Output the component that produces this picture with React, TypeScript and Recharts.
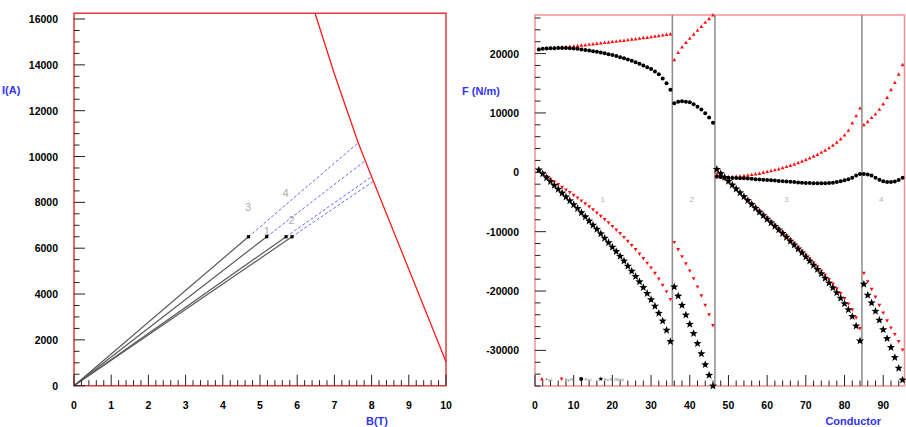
import React from "react";
import { ScatterChart, Scatter, XAxis, YAxis, ReferenceArea, ReferenceLine, Legend } from "recharts";

const FONT = "'Liberation Sans', Arial, Helvetica, sans-serif";
const TITLE_BLUE = "#3434ee";

// ---- left panel: load lines I(A) vs B(T)
const bTickLabels = [0, 1, 2, 3, 4, 5, 6, 7, 8, 9, 10];
const iTickLabels = [0, 2000, 4000, 6000, 8000, 10000, 12000, 14000, 16000];
const opCurrent = 6500;
const opField = [4.69, 5.18, 5.7, 5.86];
const quenchField = [7.64, 7.83, 8.0, 8.05];
const quenchCurrent = [10600, 9820, 9120, 8920];
const critField = [6.48, 7.0, 7.64, 8.0, 9.0, 10.0];
const critCurrent = [16250, 13600, 10600, 9120, 5080, 1050];
const coilTags = ["3", "1", "4", "2"];
const coilTagField = [4.68, 5.18, 5.69, 5.85];
const coilTagCurrent = [7810, 6750, 8420, 7230];

// ---- right panel: forces per conductor
const condTickLabels = [0, 10, 20, 30, 40, 50, 60, 70, 80, 90];
const forceTickLabels = [-30000, -20000, -10000, 0, 10000, 20000];
const blockEdges = [35.5, 46.5, 84.5];
const blockNames = ["1", "2", "3", "4"];
const blockNameX = [17.5, 40.5, 65, 89.5];
const blockNameY = -4500;
const legendNames = ["Fy,L", "Fy,R", "Fx,L", "Fx,R (N/m)"];

const redUp = [
  20800, 20850, 20900, 20950, 21000, 21050, 21100, 21150, 21200, 21250,
  21300, 21400, 21450, 21550, 21600, 21700, 21750, 21850, 21900, 22000,
  22050, 22150, 22200, 22300, 22400, 22450, 22550, 22650, 22700, 22800,
  22900, 23000, 23100, 23200, 23300,
  18950, 20150, 21100, 21850, 22550, 23250, 23900, 24550, 25250, 25850, 26500,
  -800, -800, -800, -800, -750, -700, -650, -600, -500, -400,
  -300, -200, -50, 100, 250, 400, 550, 750, 950, 1150,
  1350, 1600, 1850, 2100, 2400, 2700, 3000, 3350, 3700, 4100,
  4550, 5050, 5600, 6250, 7050, 8300, 9500, 10800,
  8000, 8500, 9200, 9800, 10600, 11500, 12600, 13900, 15100, 16500, 18100
];

const redDown = [
  200, -250, -700, -1150, -1600, -2050, -2500, -2950, -3400, -3850,
  -4300, -4800, -5300, -5800, -6300, -6850, -7400, -7950, -8500, -9100,
  -9700, -10300, -10950, -11600, -12300, -13000, -13750, -14500, -15300, -16100,
  -17000, -17950, -19000, -20100, -21400,
  -11800, -13000, -14200, -15400, -16600, -17900, -19300, -20800, -22400, -24000, -25800,
  -300, -600, -1100, -1650, -2250, -2850, -3450, -4050, -4650, -5250,
  -5850, -6450, -7050, -7650, -8250, -8850, -9450, -10050, -10650, -11300,
  -11950, -12600, -13250, -13900, -14550, -15200, -15900, -16600, -17300, -18050,
  -18800, -19600, -20400, -21250, -22150, -23150, -24500, -26300,
  -17000, -18400, -19700, -21000, -22400, -23700, -25000, -26200, -27300, -28500, -29900
];

const blackDot = [
  20700, 20800, 20850, 20900, 20900, 20950, 20950, 20950, 20900, 20850,
  20800, 20700, 20600, 20500, 20400, 20300, 20200, 20050, 19900, 19750,
  19600, 19400, 19200, 19000, 18800, 18550, 18300, 18000, 17700, 17400,
  17000, 16500, 15800, 15000, 13900,
  11650, 11900, 11950, 11900, 11800, 11450, 11050, 10600, 9950, 9250, 8350,
  -700, -800, -850, -900, -950, -950, -1000, -1000, -1050, -1100,
  -1150, -1200, -1250, -1300, -1350, -1400, -1450, -1500, -1550, -1600,
  -1650, -1700, -1750, -1800, -1800, -1850, -1850, -1850, -1850, -1800,
  -1750, -1650, -1500, -1350, -1150, -900, -550, -300,
  -300, -350, -550, -900, -1250, -1500, -1650, -1650, -1550, -1300, -900
];

const blackStar = [
  400, -250, -900, -1550, -2200, -2850, -3500, -4150, -4800, -5450,
  -6100, -6800, -7500, -8200, -8900, -9600, -10350, -11100, -11850, -12600,
  -13350, -14150, -14950, -15800, -16650, -17550, -18450, -19400, -20400, -21450,
  -22550, -23750, -25050, -26600, -28500,
  -19300, -20850, -22400, -24050, -25600, -27150, -28850, -30550, -32400, -34200, -36000,
  500, -200, -850, -1500, -2150, -2800, -3450, -4100, -4750, -5400,
  -6050, -6700, -7300, -7900, -8500, -9100, -9700, -10300, -10950, -11600,
  -12250, -12900, -13550, -14250, -14950, -15650, -16350, -17100, -17850, -18650,
  -19450, -20300, -21200, -22150, -23150, -24300, -25900, -28400,
  -18850, -20700, -22000, -23400, -24900, -26500, -28000, -29500, -31200, -33000, -35000
];

const conductor = redUp.map((_, i) => i + 1);
const series = (ys: number[]) => conductor.map((c, i) => ({ c, f: ys[i] }));

function stepTicks(from: number, to: number, step: number) {
  const out: number[] = [];
  for (let v = from; v <= to + step / 1000; v += step) out.push(Math.round(v * 1000) / 1000);
  return out;
}

const isIn = (list: number[], v: number) => list.some((m) => Math.abs(m - v) < 1e-6);

const bottomTick = (majors: number[]) => (props: any) => {
  const { x, y, payload } = props;
  const major = isIn(majors, payload.value);
  return (
    <g>
      <line x1={x} x2={x} y1={y} y2={y - (major ? 11 : 5.5)} stroke="#222" strokeWidth={1} />
      {major && (
        <text x={x} y={y + 23} textAnchor="middle" fontFamily={FONT} fontSize={10.5} fontWeight="bold" fill="#000">
          {payload.value}
        </text>
      )}
    </g>
  );
};

const leftTick = (majors: number[]) => (props: any) => {
  const { x, y, payload } = props;
  const major = isIn(majors, payload.value);
  return (
    <g>
      <line x1={x} x2={x + (major ? 11 : 5.5)} y1={y} y2={y} stroke="#222" strokeWidth={1} />
      {major && (
        <text x={x - 16} y={y + 4} textAnchor="end" fontFamily={FONT} fontSize={10.5} fontWeight="bold" fill="#000">
          {payload.value}
        </text>
      )}
    </g>
  );
};

function starPoints(cx: number, cy: number, R: number, r: number) {
  const pts: string[] = [];
  for (let k = 0; k < 10; k++) {
    const rad = k % 2 === 0 ? R : r;
    const a = -Math.PI / 2 + (k * Math.PI) / 5;
    pts.push(`${(cx + rad * Math.cos(a)).toFixed(2)},${(cy + rad * Math.sin(a)).toFixed(2)}`);
  }
  return pts.join(" ");
}

const upTri = (p: any) => (
  <polygon points={`${p.cx},${p.cy - 2} ${p.cx - 1.9},${p.cy + 1.4} ${p.cx + 1.9},${p.cy + 1.4}`} fill="#ff1010" />
);
const downTri = (p: any) => (
  <polygon points={`${p.cx},${p.cy + 2} ${p.cx - 1.9},${p.cy - 1.4} ${p.cx + 1.9},${p.cy - 1.4}`} fill="#ff1010" />
);
const dot = (p: any) => <circle cx={p.cx} cy={p.cy} r={2} fill="#000" />;
const star = (p: any) => <polygon points={starPoints(p.cx, p.cy, 4.3, 1.8)} fill="#000" />;
const noMark = () => <g />;
const square = (p: any) => <rect x={p.cx - 1.6} y={p.cy - 1.6} width={3.2} height={3.2} fill="#000" />;

function FluxLegend() {
  const shapes = [upTri, downTri, dot, (p: any) => <polygon points={starPoints(p.cx, p.cy, 2.6, 1.1)} fill="#000" />];
  return (
    <svg width={95} height={10} style={{ display: "block" }}>
      {legendNames.map((name, k) => (
        <g key={name}>
          {shapes[k]({ cx: 4 + k * 19.6, cy: 5 })}
          <text x={7.5 + k * 19.6} y={6.5} fontFamily={FONT} fontSize={4} fill="#666">
            {name}
          </text>
        </g>
      ))}
    </svg>
  );
}

function LoadLines() {
  const crit = critField.map((b, k) => ({ b, i: critCurrent[k] }));
  const tags = coilTags.map((t, k) => ({ b: coilTagField[k], i: coilTagCurrent[k], t }));
  const ops = opField.map((b) => ({ b, i: opCurrent }));
  return (
    <ScatterChart width={460} height={427} margin={{ top: 13.3, right: 14, left: 0, bottom: 0 }}>
      <XAxis
        type="number"
        dataKey="b"
        domain={[0, 10]}
        ticks={stepTicks(0, 10, 0.2)}
        interval={0}
        height={41.3}
        tickSize={0}
        tickMargin={0}
        axisLine={false}
        tickLine={false}
        tick={bottomTick(bTickLabels)}
        label={() => (
          <text x={388} y={425} textAnchor="end" fontFamily={FONT} fontSize={11} fontWeight="bold" fill={TITLE_BLUE}>
            B(T)
          </text>
        )}
      />
      <YAxis
        type="number"
        dataKey="i"
        domain={[0, 16250]}
        ticks={stepTicks(0, 16000, 500)}
        interval={0}
        width={74}
        tickSize={0}
        tickMargin={0}
        axisLine={false}
        tickLine={false}
        tick={leftTick(iTickLabels)}
        label={() => (
          <text x={2} y={94} fontFamily={FONT} fontSize={11} fontWeight="bold" fill={TITLE_BLUE}>
            I(A)
          </text>
        )}
      />
      <ReferenceArea x1={0} x2={10} y1={0} y2={16250} fill="none" stroke="#e23838" strokeWidth={1.5} />
      {opField.map((b, k) => (
        <Scatter
          key={`solid${k}`}
          data={[{ b: 0, i: 0 }, { b, i: opCurrent }]}
          shape={noMark}
          line={{ stroke: "#5a5a5a", strokeWidth: 1.2 }}
          isAnimationActive={false}
        />
      ))}
      {opField.map((b, k) => (
        <Scatter
          key={`dash${k}`}
          data={[{ b, i: opCurrent }, { b: quenchField[k], i: quenchCurrent[k] }]}
          shape={noMark}
          line={{ stroke: "#6a6af0", strokeWidth: 1, strokeDasharray: "3 2" }}
          isAnimationActive={false}
        />
      ))}
      <Scatter data={crit} shape={noMark} line={{ stroke: "#ff1a1a", strokeWidth: 1.3 }} isAnimationActive={false} />
      <Scatter data={ops} shape={square} isAnimationActive={false} />
      <Scatter
        data={tags}
        isAnimationActive={false}
        shape={(p: any) => (
          <text x={p.cx} y={p.cy + 4} textAnchor="middle" fontFamily={FONT} fontSize={11} fill="#aaa">
            {p.payload.t}
          </text>
        )}
      />
    </ScatterChart>
  );
}

function ForceChart() {
  const names = blockNames.map((t, k) => ({ c: blockNameX[k], f: blockNameY, t }));
  return (
    <ScatterChart width={446} height={427} margin={{ top: 15, right: 1.5, left: 0, bottom: 0 }}>
      <XAxis
        type="number"
        dataKey="c"
        domain={[0, 95.5]}
        ticks={stepTicks(0, 94, 2)}
        interval={0}
        height={41}
        tickSize={0}
        tickMargin={0}
        axisLine={false}
        tickLine={false}
        tick={bottomTick(condTickLabels)}
        label={() => (
          <text x={421} y={425} textAnchor="end" fontFamily={FONT} fontSize={11} fontWeight="bold" fill={TITLE_BLUE}>
            Conductor
          </text>
        )}
      />
      <YAxis
        type="number"
        dataKey="f"
        domain={[-36000, 26500]}
        ticks={stepTicks(-36000, 26000, 2000)}
        interval={0}
        width={75}
        tickSize={0}
        tickMargin={0}
        axisLine={false}
        tickLine={false}
        tick={leftTick(forceTickLabels)}
        label={() => (
          <text x={2} y={95} fontFamily={FONT} fontSize={11} fontWeight="bold" fill={TITLE_BLUE}>
            F (N/m)
          </text>
        )}
      />
      <ReferenceArea x1={0} x2={95.5} y1={-36000} y2={26500} fill="none" stroke="#f39393" strokeWidth={1.5} />
      {blockEdges.map((x) => (
        <ReferenceLine key={x} x={x} stroke="#8c8c8c" strokeWidth={1.5} />
      ))}
      <Scatter
        data={names}
        isAnimationActive={false}
        shape={(p: any) => (
          <text x={p.cx} y={p.cy + 3} textAnchor="middle" fontFamily={FONT} fontSize={8} fill="#b0b0b0">
            {p.payload.t}
          </text>
        )}
      />
      <Scatter name={legendNames[0]} data={series(redUp)} shape={upTri} isAnimationActive={false} />
      <Scatter name={legendNames[1]} data={series(redDown)} shape={downTri} isAnimationActive={false} />
      <Scatter name={legendNames[2]} data={series(blackDot)} shape={dot} isAnimationActive={false} />
      <Scatter name={legendNames[3]} data={series(blackStar)} shape={star} isAnimationActive={false} />
      <Legend
        layout="vertical"
        align="center"
        verticalAlign="middle"
        content={() => <FluxLegend />}
        wrapperStyle={{ left: 78, top: 374, width: 95, height: 10 }}
      />
    </ScatterChart>
  );
}

export default function App() {
  return (
    <div style={{ position: "absolute", left: 0, top: 0, width: 906, height: 427, background: "#fff", overflow: "hidden" }}>
      <div style={{ position: "absolute", left: 0, top: 0 }}>
        <LoadLines />
      </div>
      <div style={{ position: "absolute", left: 460, top: 0 }}>
        <ForceChart />
      </div>
    </div>
  );
}
